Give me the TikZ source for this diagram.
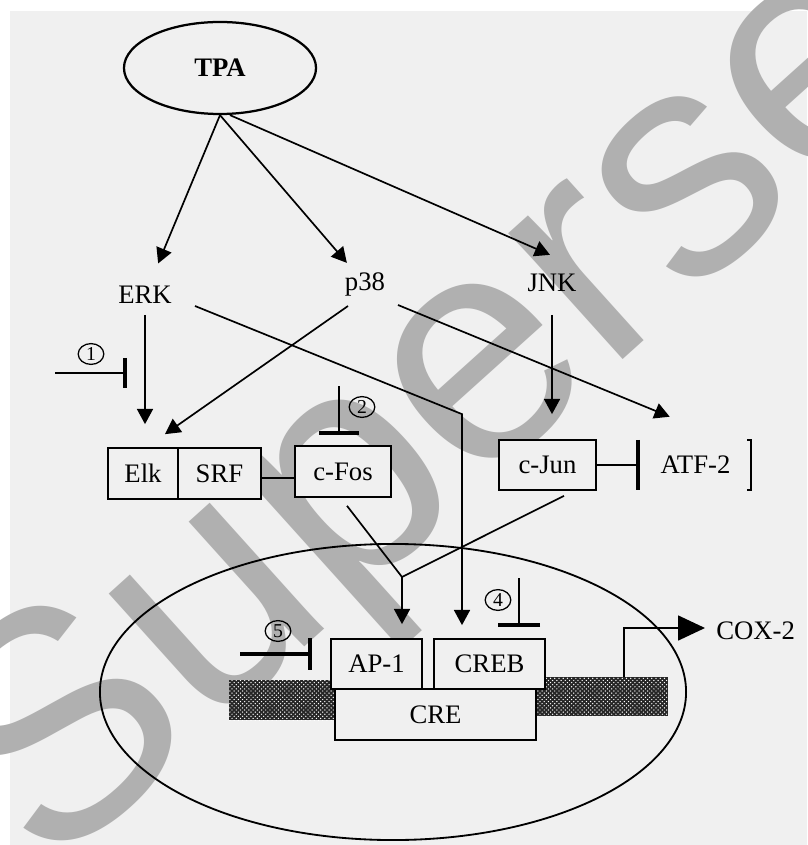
\documentclass[tikz,border=0pt]{standalone}
\usepackage{fontspec}
\setmainfont{Liberation Serif}
\newfontfamily\wmfont{Liberation Sans}
\usepackage{xcolor}
\usetikzlibrary{arrows.meta,calc,shapes.geometric,patterns}
\definecolor{sigbg}{HTML}{F0F0F0}
\definecolor{sigmark}{HTML}{B0B0B0}
\definecolor{sigink}{HTML}{000000}

\begin{document}
\begin{tikzpicture}[x=0.025cm,y=-0.025cm,
 lbl/.style={inner sep=0pt,text=sigink,font=\fontsize{19}{21}\selectfont},
 box/.style={draw=sigink,fill=sigbg,line width=1.2pt,inner sep=0pt,
  font=\fontsize{19}{21}\selectfont},
 dna/.style={draw=none,fill=black!85,inner sep=0pt,
  postaction={pattern=crosshatch dots,pattern color=white}},
 circ/.style={ellipse,draw=sigink,line width=0.9pt,inner sep=0pt,
  minimum width=0.64cm,minimum height=0.52cm,font=\fontsize{14}{14}\selectfont},
 link/.style={draw=sigink,line width=1.2pt},
 act/.style={link,-{Triangle[length=0.38cm,width=0.4cm]}},
 inh/.style={link,-{Bar[width=#1,line width=2.6pt]}}]
% Frame in pixels of the reference: 807 x 845, 1 px = 0.025 cm
\useasboundingbox (0,0) rectangle (807,845);
\fill[white] (0,0) rectangle (807,845);
\fill[sigbg] (10,11) rectangle (807,845);

% ── Watermark (behind the diagram) ──────────────────────────────
\node[anchor=base west,rotate=42,inner sep=0pt,text=sigmark,
 font=\wmfont\fontsize{229}{229}\selectfont] (wmark) at (48,878) {Superse};

% ── Stimulus and kinases ───────────────────────────────────────
\node[ellipse,draw=sigink,line width=1.6pt,inner sep=0pt,
 minimum width=4.8cm,minimum height=2.3cm,
 font=\bfseries\fontsize{19}{21}\selectfont] (tpa) at (220,68) {TPA};
\node[lbl] (erk) at (145,295) {ERK};
\node[lbl] (p38) at (365,284) {p38};
\node[lbl] (jnk) at (552,283) {JNK};

% ── Cytoplasmic factors ────────────────────────────────────────
\node[box,minimum width=1.75cm,minimum height=1.275cm] (elk) at (143,473.5) {Elk};
\node[box,minimum width=2.075cm,minimum height=1.275cm] (srf) at (219.5,473.5) {SRF};
\node[box,minimum width=2.4cm,minimum height=1.275cm] (cfos) at (343,471.5) {c-Fos};
\node[box,minimum width=2.425cm,minimum height=1.25cm] (cjun) at (547.5,465) {c-Jun};
\node[lbl,minimum width=2.775cm,minimum height=1.25cm] (atf2) at (695.5,465) {ATF-2};

% ── Nucleus, promoter and bound factors ────────────────────────
\node[ellipse,draw=sigink,line width=1.3pt,inner sep=0pt,
 minimum width=14.65cm,minimum height=7.4cm] (nuc) at (393,692) {};
\node[dna,minimum width=2.65cm,minimum height=1cm] (dnal) at (282,700) {};
\node[dna,minimum width=3.3cm,minimum height=0.975cm] (dnar) at (602,696.5) {};
\node[box,minimum width=5.025cm,minimum height=1.275cm] (cre) at (435.5,714.5) {CRE};
\node[box,minimum width=2.275cm,minimum height=1.25cm] (ap1) at (376.5,664) {AP-1};
\node[box,minimum width=2.775cm,minimum height=1.25cm] (creb) at (489.5,664) {CREB};
\node[lbl,anchor=west] (cox) at (716,631) {COX-2};

% ── Inhibitor marks ────────────────────────────────────────────
\node[circ] (n1) at (91,354) {1};
\node[circ] (n2) at (362,407) {2};
\node[circ] (n4) at (498,600) {4};
\node[circ] (n5) at (278,631) {5};
\coordinate (i1) at (55,373);
\coordinate (i2) at (339,386);
\coordinate (i4) at (519,578);
\coordinate (i5) at (240,654);
\coordinate (merge) at (402,577);

% ── TPA to the kinases ─────────────────────────────────────────
\draw[act,shorten >=0.61cm] (tpa.south) -- (erk);
\draw[act,shorten >=0.3cm] (tpa.south) -- (p38);
\draw[act] ($(tpa.south)+(10,0)$) -- ($(jnk.north)+(-2,-19)$);

% ── Kinases to their targets ───────────────────────────────────
\draw[act] ($(erk)+(0,20)$) -- ($(erk |- elk.north)+(0,-23)$);
\draw[act] ($(p38)+(-17,22)$) -- ($(elk.north)+(22,-13)$);
\draw[act,shorten >=0.325cm] ($(erk)+(50,11)$)
 -- ($(creb.north)+(-27.5,-224)$) -- ($(creb.north)+(-27.5,0)$);
\draw[act] ($(p38)+(33,21)$) -- ($(atf2.north west)+(30,-23)$);
\draw[act] ($(jnk)+(0,32)$) -- ($(jnk |- cjun.north)+(0,-25)$);
\draw[inh=1.25cm] (cjun.east) -- (atf2.west);
\draw[link] ($(atf2.north east)+(-4,0)$) -- (atf2.north east)
 -- (atf2.south east) -- ($(atf2.south east)+(-4,0)$);
\draw[link] ($(srf.east)+(0,4.5)$) -- ($(cfos.west)+(0,6.5)$);

% ── c-Fos and c-Jun join as AP-1 ───────────────────────────────
\draw[link] ($(cfos.south)+(4,8)$) -- (merge);
\draw[link] ($(cjun.south)+(16.5,5)$) -- (merge);
\draw[act,shorten >=0.35cm] (merge) -- (merge |- ap1.north);

% ── Inhibitors 1, 2, 4, 5 ──────────────────────────────────────
\draw[inh=0.75cm,line width=1pt] (i1) -- ($(i1 -| erk)+(-18,0)$);
\draw[inh=1cm,line width=2pt] (i2) -- ($(cfos.north)+(-4,-10)$);
\draw[inh=1.05cm] (i4) -- ($(creb.north)+(29.5,-11)$);
\draw[inh=0.78cm,line width=2.2pt] (i5) -- ($(ap1.west)+(-18,-10)$);

% ── Transcription start ────────────────────────────────────────
\draw[link,-{Triangle[length=0.675cm,width=0.625cm]}]
 ($(dnar.north west)+(88,0)$) |- ($(cox.west)+(-11,-3)$);
\end{tikzpicture}
\end{document}
